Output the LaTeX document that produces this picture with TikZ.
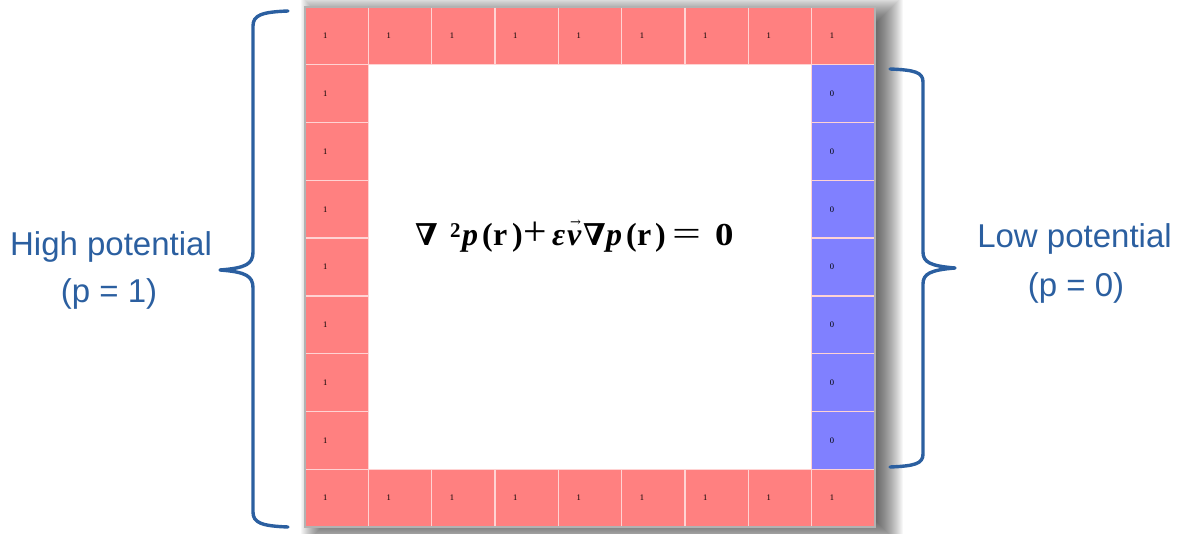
\documentclass[tikz,border=0pt]{standalone}
\usepackage{amsmath,graphicx}
\usepackage{fontspec}
\setmainfont{Liberation Sans}
\newfontfamily\numfont{Liberation Serif}
\newfontfamily\tnr{Liberation Serif}
\newfontfamily\dvs{DejaVu Serif}
\newcommand\eqat[2]{\rlap{\hspace*{#1pt}#2}}
\newcommand\nab{{\dvs\bfseries\fontsize{30}{32}\selectfont ∇}}
\definecolor{cred}{RGB}{255,128,128}
\definecolor{cblue}{RGB}{128,128,255}
\definecolor{bluetxt}{RGB}{43,95,160}
\tikzset{
  cell/.style={draw=white!65!cred, line width=1.3pt, minimum width=63.333pt, minimum height=57.778pt, inner sep=0pt},
  num/.style={font=\numfont\fontsize{8.5}{9}\selectfont, inner sep=0pt, text=black},
  brace/.style={draw=bluetxt, line width=3.4pt, line cap=round, line join=round},
  label/.style={font=\fontsize{33}{40}\selectfont, text=bluetxt, anchor=base, inner sep=0pt}
}
\begin{document}
\begin{tikzpicture}[x=1pt,y=-1pt]
\useasboundingbox (0,0) rectangle (1181,534);
% blurred drop shadow
\begin{scope}
\clip (0,0) rectangle (1181,534);
\foreach \k in {0,...,32}{
  \fill[black, opacity=0.03] ({305+12-16+\k},{7+5-16+\k}) rectangle ({875+12+16-\k},{527+5+16-\k});
}
\end{scope}
\fill[white] (305,7) rectangle (875,527);
% cells
\foreach \i in {0,...,8}{
  \foreach \j in {0,...,8}{
    \pgfmathtruncatemacro\isborder{(\i==0)||(\i==8)||(\j==0)||(\j==8)}
    \ifnum\isborder=1
      \pgfmathtruncatemacro\isblue{(\i==8)&&(\j>0)&&(\j<8)}
      \ifnum\isblue=1 \def\cc{cblue}\def\vv{0}\else\def\cc{cred}\def\vv{1}\fi
      \node[cell, fill=\cc] (c-\i-\j) at ({305+(\i+0.5)*63.333},{7+(\j+0.5)*57.778}) {};
      \node[num] (n-\i-\j) at ([xshift=21pt]c-\i-\j.west) {\vv};
    \fi
  }
}
\draw[black!30, line width=1.2pt] (305,7) rectangle (875,527);
% equation
\node[anchor=base west, inner sep=0pt, font=\tnr\bfseries\fontsize{32}{36}\selectfont] (eq) at (415,246)
  {\makebox[322pt][l]{%
   \eqat{0}{\nab}%
   \eqat{35}{\raisebox{8pt}{\fontsize{21}{22}\selectfont 2}}%
   \eqat{47}{\itshape p}%
   \eqat{67}{(}\eqat{78}{r}\eqat{97}{)}%
   \eqat{108}{\mdseries\scalebox{1.3}{+}}%
   \eqat{137}{\itshape ε}%
   \eqat{152}{\itshape v}%
   \eqat{155}{\raisebox{19pt}{\dvs\mdseries\fontsize{13}{14}\selectfont →}}%
   \eqat{168}{\nab}%
   \eqat{191}{\itshape p}%
   \eqat{211}{(}\eqat{222}{r}\eqat{240}{)}%
   \eqat{257}{\mdseries\scalebox{1.6}[1.1]{=}}%
   \eqat{300}{\scalebox{1.15}[1]{0}}}};
% braces
\draw[brace] (288,11) .. controls (262,12) and (253,15) .. (253,26) -- (253,252)
  .. controls (253,264) and (246,268) .. (220,270)
  .. controls (246,272) and (253,276) .. (253,288) -- (253,512)
  .. controls (253,523) and (262,526) .. (288,527);
\draw[brace] (890,69) .. controls (914,70) and (923,72) .. (923,82) -- (923,252)
  .. controls (923,262) and (930,266) .. (955,268)
  .. controls (930,270) and (923,274) .. (923,284) -- (923,454)
  .. controls (923,464) and (914,466) .. (890,467);
% labels
\node[label] (hp) at (111,256) {High potential};
\node[label] (p1) at (109,303) {(p = 1)};
\node[label] (lp) at (1074.5,248) {Low potential};
\node[label] (p0) at (1076,297) {(p = 0)};
\end{tikzpicture}
\end{document}
